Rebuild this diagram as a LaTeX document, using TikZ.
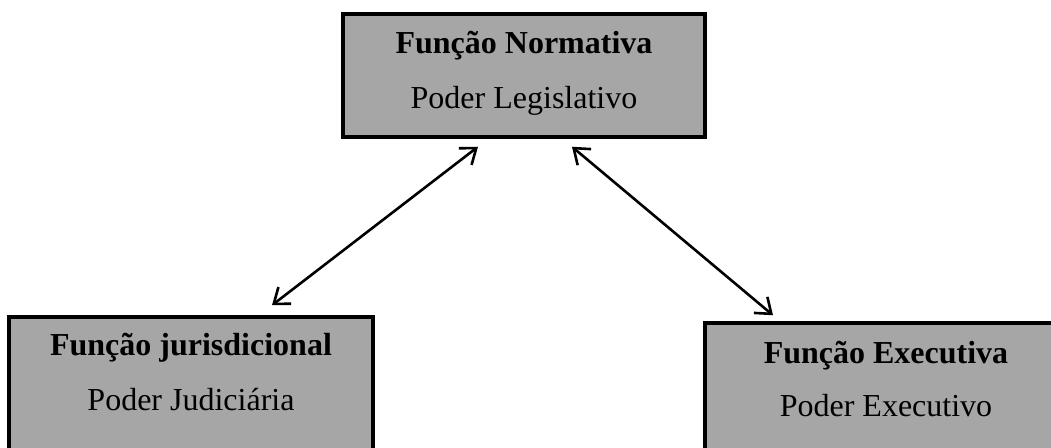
\documentclass[tikz,border=0pt]{standalone}
\usepackage{fontspec}
\setmainfont{Liberation Serif}
\usetikzlibrary{arrows.meta}
\begin{document}
\begin{tikzpicture}[x=1pt,y=1pt,
        funcbox/.style={draw,line width=3.5pt,fill=black!35,minimum width=362pt,inner sep=0pt},
        title/.style={anchor=base,font=\fontsize{32}{38}\selectfont\bfseries},
        sub/.style={anchor=base,font=\fontsize{32}{38}\selectfont},
        link/.style={line width=2.6pt,{Straight Barb[length=14pt,width=21pt]}-{Straight Barb[length=14pt,width=21pt]}}]
        \useasboundingbox (0,0) rectangle (1051,447);
        \clip (0,0) rectangle (1051,447);
        \node[funcbox,minimum height=123pt] (norm) at (524,371.5) {};
        \node[funcbox,minimum width=364pt,minimum height=150pt] (jur) at (191,55) {};
        \node[funcbox,minimum height=150pt] (exec) at (886,49) {};
        \node[title] (normT) at ([yshift=-41pt]norm.north) {Função Normativa};
        \node[sub] (normS) at ([yshift=-96pt]norm.north) {Poder Legislativo};
        \node[title] (jurT) at ([yshift=-40pt]jur.north) {Função jurisdicional};
        \node[sub] (jurS) at ([yshift=-95pt]jur.north) {Poder Judiciária};
        \node[title] (execT) at ([yshift=-42pt]exec.north) {Função Executiva};
        \node[sub] (execS) at ([yshift=-95pt]exec.north) {Poder Executivo};
        \draw[link] ([xshift=-46pt,yshift=-8pt]norm.south) -- ([xshift=81pt,yshift=10pt]jur.north);
        \draw[link] ([xshift=48pt,yshift=-8pt]norm.south) -- ([xshift=-113pt,yshift=6pt]exec.north);
    \end{tikzpicture}
\end{document}
